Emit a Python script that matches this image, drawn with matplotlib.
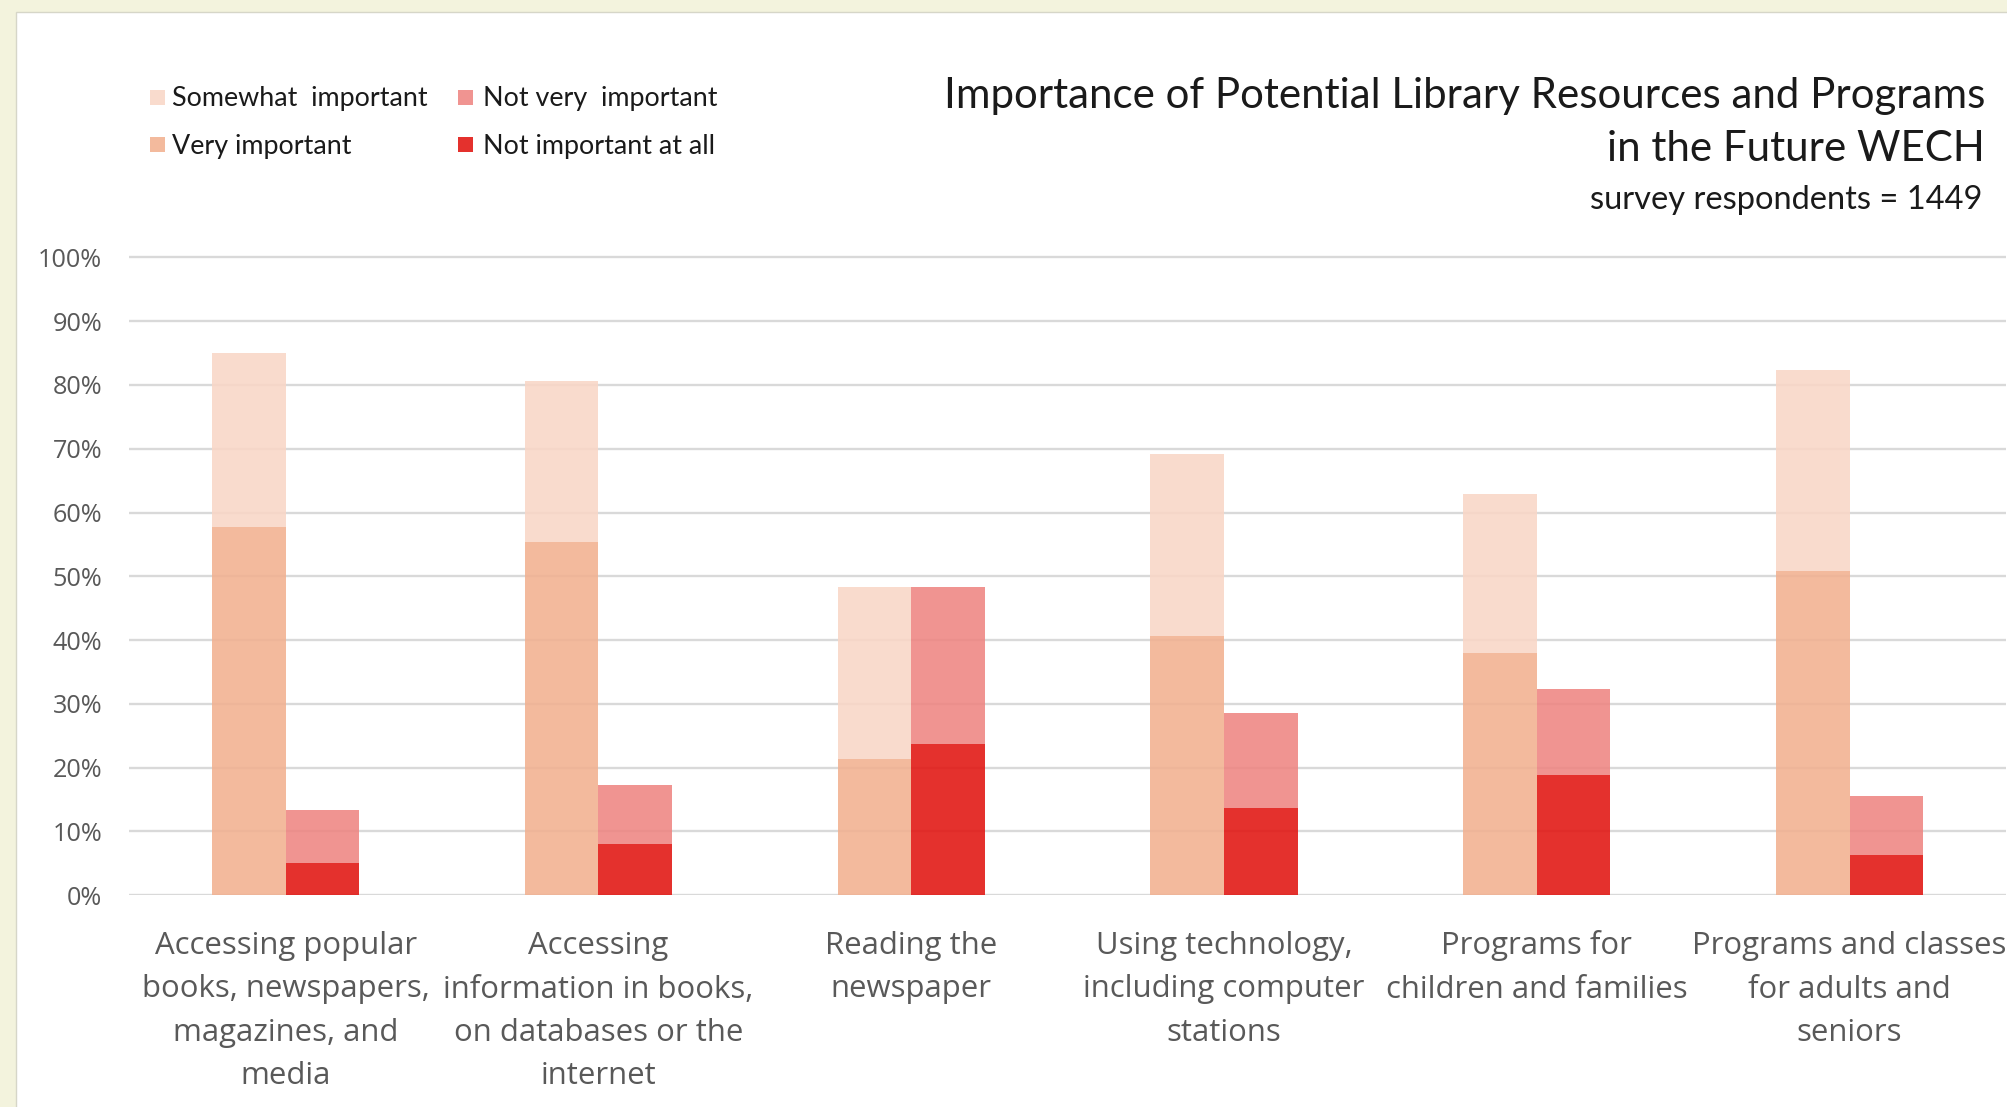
import matplotlib
matplotlib.use("Agg")
import matplotlib.pyplot as plt
import matplotlib.transforms as mtransforms
from matplotlib.patches import Rectangle
import numpy as np

# ---------------- data ----------------
categories = [
    "Accessing popular\nbooks, newspapers,\nmagazines, and\nmedia",
    "Accessing\ninformation in books,\non databases or the\ninternet",
    "Reading the\nnewspaper",
    "Using technology,\nincluding computer\nstations",
    "Programs for\nchildren and families",
    "Programs and classes\nfor adults and\nseniors",
]
very_important = [57.7, 55.3, 21.4, 40.6, 37.9, 50.9]
somewhat_important = [27.3, 25.3, 27.0, 28.5, 25.0, 31.4]
not_important_at_all = [5.0, 8.0, 23.7, 13.6, 18.8, 6.3]
not_very_important = [8.3, 9.3, 24.7, 14.9, 13.6, 9.2]
yticks = list(range(0, 101, 10))
ytick_labels = [f"{v}%" for v in yticks]
title_lines = ["Importance of Potential Library Resources and Programs",
               "in the Future WECH"]
subtitle = "survey respondents = 1449"
legend_labels = ["Somewhat  important", "Very important",
                 "Not very  important", "Not important at all"]

# ---------------- style ----------------
C_SI = "#F9D6C6"
C_VI = "#F2B190"
C_NVI = "#EE8582"
C_NIA = "#E11410"
ALPHA = 0.88
FT = ["Lato", "DejaVu Sans"]
FA = ["Open Sans", "DejaVu Sans"]
GRAY = "#595959"
DARK = "#1A1A1A"

W, H = 2008, 1107
fig = plt.figure(figsize=(W / 100, H / 100), dpi=100)
fig.patch.set_facecolor("#F3F3DD")
renderer = fig.canvas.get_renderer()

panel = Rectangle((16 / W, -0.02), 1.05, (H - 12) / H + 0.02,
                  transform=fig.transFigure, facecolor="white",
                  edgecolor="#D6D6C8", lw=1.0, zorder=-10)
fig.patches.append(panel)


def fitted_size(s, family, target, base=20):
    t = fig.text(0, 0, s, fontsize=base, family=family)
    w = t.get_window_extent(renderer).width
    t.remove()
    return base * target / w


def fx(px):
    return px / W


def fy(py):
    return 1 - py / H


# ---------------- axes ----------------
y0_px, y100_px = 895.2, 257.4
ppu = (y0_px - y100_px) / 100.0
ytop = 102
top_px = y0_px - ytop * ppu
ax = fig.add_axes([fx(129.2), fy(y0_px), (2006 - 129.2) / W, (y0_px - top_px) / H])
ax.set_zorder(1)
ax.set_facecolor("none")
ax.set_xlim(-0.5, 5.5)
ax.set_ylim(0, ytop)
for s in ax.spines.values():
    s.set_visible(False)
ax.set_axisbelow(True)
ax.yaxis.grid(True, color="#D9D9D9", lw=1.7)
ax.set_xticks([])
ax.set_yticks(yticks)
tick_fs = fitted_size("100%", FA, 64)
ax.set_yticklabels(ytick_labels, fontsize=tick_fs, family=FA, color=GRAY)
ax.tick_params(axis="y", length=0, pad=19.4)

x = np.arange(len(categories))
bw = 0.235
left = x - bw / 2
right = x + bw / 2
ax.bar(left, very_important, bw, color=C_VI, alpha=ALPHA, zorder=3)
ax.bar(left, somewhat_important, bw, bottom=very_important, color=C_SI, alpha=ALPHA, zorder=3)
ax.bar(right, not_important_at_all, bw, color=C_NIA, alpha=ALPHA, zorder=3)
ax.bar(right, not_very_important, bw, bottom=not_important_at_all, color=C_NVI, alpha=ALPHA, zorder=3)

# ---------------- category labels ----------------
cat_fs = fitted_size("Accessing popular", FA, 262)
blend = mtransforms.blended_transform_factory(ax.transData, fig.transFigure)
for xi, lab in zip(x, categories):
    for i, line in enumerate(lab.split("\n")):
        fig.text(xi, fy(954 + i * 43.5), line, transform=blend, ha="center",
                 va="baseline", fontsize=cat_fs, family=FA, color=GRAY)

# ---------------- title ----------------
t_fs = fitted_size(title_lines[0], FT, 1041)
fig.text(fx(1985), fy(108), title_lines[0], ha="right", va="baseline",
         fontsize=t_fs, family=FT, color=DARK)
fig.text(fx(1985), fy(161), title_lines[1], ha="right", va="baseline",
         fontsize=t_fs, family=FT, color=DARK)
s_fs = fitted_size(subtitle, FT, 394)
fig.text(fx(1982), fy(209), subtitle, ha="right", va="baseline",
         fontsize=s_fs, family=FT, color=DARK)

# ---------------- legend ----------------
leg_fs = fitted_size("Not important at all", FT, 232)
leg_items = [
    (legend_labels[0], C_SI, 150, 90, 172, 106),
    (legend_labels[1], C_VI, 150, 137, 172, 154),
    (legend_labels[2], C_NVI, 458, 90, 483, 106),
    (legend_labels[3], C_NIA, 458, 137, 483, 154),
]
for lab, col, sx, sy, tx, ty in leg_items:
    fig.patches.append(Rectangle((fx(sx), fy(sy + 15)), 15 / W, 15 / H,
                                 transform=fig.transFigure, facecolor=col,
                                 alpha=ALPHA, edgecolor="none", zorder=2))
    fig.text(fx(tx), fy(ty), lab, ha="left", va="baseline", fontsize=leg_fs,
             family=FT, color=DARK)

fig.savefig("out.png", dpi=100, facecolor=fig.get_facecolor())
